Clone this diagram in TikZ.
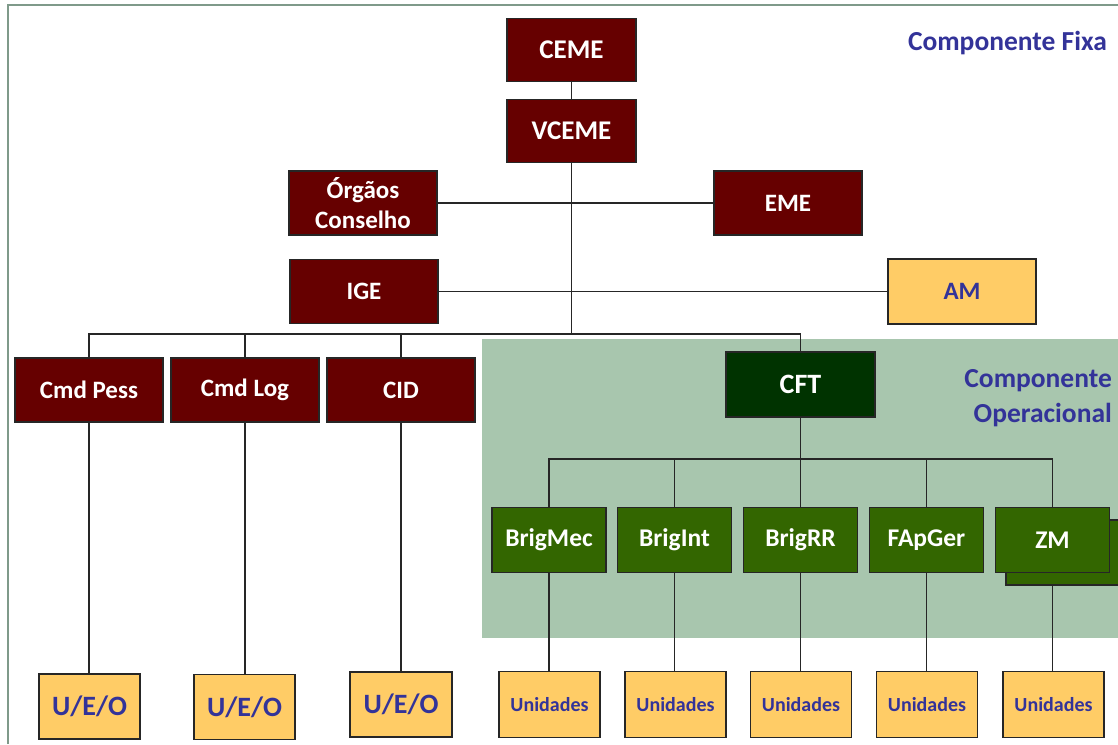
\documentclass[tikz,border=0pt]{standalone}
\usepackage{fontspec}
\setmainfont{Carlito}
\definecolor{mred}{HTML}{660000}
\definecolor{cftgreen}{HTML}{003300}
\definecolor{briggreen}{HTML}{336600}
\definecolor{morange}{HTML}{FFCC66}
\definecolor{mblue}{HTML}{333399}
\definecolor{bggreen}{HTML}{A8C6AE}
\definecolor{framec}{HTML}{7F9A8A}
\newcommand{\fs}[1]{\fontsize{#1}{#1}\selectfont}
\tikzset{
  box/.style={draw=black!85, line width=1.3pt, inner sep=0pt, align=center},
  redbox/.style={box, fill=mred, text=white, minimum width=148pt, minimum height=64pt, font=\bfseries\fs{25}},
  topbox/.style={redbox, minimum width=129pt, minimum height=63pt, font=\bfseries\fs{27}},
  orbox/.style={box, fill=morange, text=mblue},
  brigbox/.style={box, fill=briggreen, text=white, minimum width=114pt, minimum height=65pt, font=\bfseries\fs{25.5}},
  unibox/.style={orbox, minimum width=101pt, minimum height=66pt, font=\bfseries\fs{20}},
  uebox/.style={orbox, minimum width=101pt, minimum height=65pt, font=\bfseries\fs{28}},
  conn/.style={draw=black!85, line width=1.2pt},
  label/.style={text=mblue, font=\bfseries\fs{27.5}, align=right, inner sep=0pt},
}
\begin{document}
\begin{tikzpicture}[x=1pt,y=-1pt]
\useasboundingbox (0,0) rectangle (1118,744);
\fill[bggreen] (482,339) rectangle (1118,638);
\draw[framec, line width=2pt] (8,744) -- (8,5) -- (1118,5);

% top fixed component
\node[topbox] (ceme) at (571.5,50) {CEME};
\node[topbox] (vceme) at (571.5,131) {VCEME};
\node[redbox] (org) at (363,203) {Órgãos\\[5pt]Conselho};
\node[redbox] (eme) at (788,203) {EME};
\node[redbox] (ige) at (364,291.5) {IGE};
\node[orbox, minimum width=148pt, minimum height=65pt, font=\bfseries\fs{25}] (am) at (962,291.5) {AM};

\node[redbox] (pess) at (89,390) {Cmd Pess};
\node[redbox] (log) at (245,390) {Cmd Log};
\node[redbox] (cid) at (401,390) {CID};
\node[box, fill=cftgreen, text=white, minimum width=149pt, minimum height=65pt, font=\bfseries\fs{28}] (cft) at (800.5,384.5) {CFT};

% brigades
\node[brigbox] (bmec) at (549,540) {BrigMec};
\node[brigbox] (bint) at (674.5,540) {BrigInt};
\node[brigbox] (brr) at (800.5,540) {BrigRR};
\node[brigbox] (fap) at (926.5,540) {FApGer};
\node[brigbox, minimum width=120pt] (zmb) at (1066,552.5) {};
\node[brigbox] (zm) at (1052.5,540) {ZM};

% bottom boxes
\node[uebox] (u1) at (89.5,706.5) {U/E/O};
\node[uebox] (u2) at (244.5,707) {U/E/O};
\node[uebox, minimum width=102pt] (u3) at (401,704.5) {U/E/O};
\node[unibox] (n1) at (549.5,704.5) {Unidades};
\node[unibox] (n2) at (675.5,704.5) {Unidades};
\node[unibox] (n3) at (801,704.5) {Unidades};
\node[unibox] (n4) at (927,704.5) {Unidades};
\node[unibox] (n5) at (1053.5,704.5) {Unidades};

% labels
\node[label, anchor=east] (fixa) at (1107,43) {Componente Fixa};
\node[label, anchor=east] (oper) at (1112,398) {Componente\\[7pt]Operacional};

% connectors
\coordinate (hub) at (571.5,334);
\coordinate (barL) at (89,334);
\coordinate (barR) at (800.5,334);
\coordinate (bbar) at (800.5,459);
\draw[conn] (ceme) -- (vceme);
\draw[conn] (vceme) -- (hub);
\draw[conn] (org) -- (eme);
\draw[conn] (ige) -- (am);
\draw[conn] (pess.north) -- (barL) -- (barR) -- (cft.north);
\draw[conn] (log.north) -- (log.north |- barL);
\draw[conn] (cid.north) -- (cid.north |- barL);
\draw[conn] (cft) -- (bbar);
\draw[conn] (bmec.north) -- (bmec.north |- bbar) -- (zm.north |- bbar) -- (zm.north);
\draw[conn] (bint.north) -- (bint.north |- bbar);
\draw[conn] (brr.north) -- (bbar);
\draw[conn] (fap.north) -- (fap.north |- bbar);
\draw[conn] (pess.south) -- (pess.south |- u1.north);
\draw[conn] (log.south) -- (log.south |- u2.north);
\draw[conn] (cid.south) -- (cid.south |- u3.north);
\draw[conn] (bmec.south) -- (bmec.south |- n1.north);
\draw[conn] (bint.south) -- (bint.south |- n2.north);
\draw[conn] (brr.south) -- (brr.south |- n3.north);
\draw[conn] (fap.south) -- (fap.south |- n4.north);
\draw[conn] (zm.south |- zmb.south) -- (zm.south |- n5.north);
\end{tikzpicture}
\end{document}
